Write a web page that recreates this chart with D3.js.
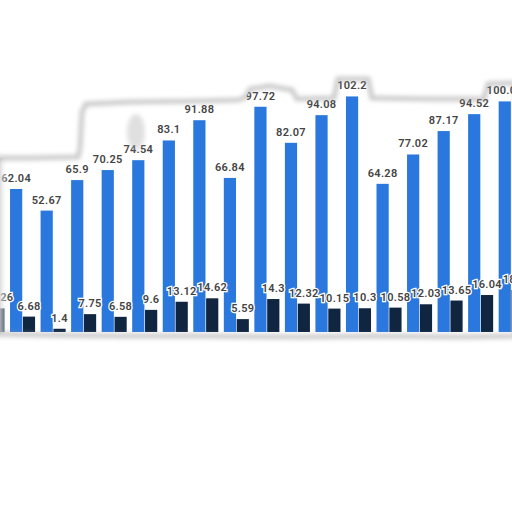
<!DOCTYPE html>
<html>
<head>
<meta charset="utf-8">
<script src="https://cdn.jsdelivr.net/npm/d3@7"></script>
<style>
  html, body { margin: 0; padding: 0; background: #fff; }
  svg { display: block; }
</style>
</head>
<body>
<svg id="chart" width="512" height="512"></svg>
<script>
// groups as they appear left to right (first and last are cut off by the tear)
const groups = ['g0', 'g1', 'g2', 'g3', 'g4', 'g5', 'g6', 'g7', 'g8', 'g9',
                'g10', 'g11', 'g12', 'g13', 'g14', 'g15', 'g16', 'g17'];
const blueValues = [null, 62.04, 52.67, 65.9, 70.25, 74.54, 83.1, 91.88, 66.84, 97.72,
                    82.07, 94.08, 102.2, 64.28, 77.02, 87.17, 94.52, 100.04];
const darkValues = [10.26, 6.68, 1.4, 7.75, 6.58, 9.6, 13.12, 14.62, 5.59, 14.3,
                    12.32, 10.15, 10.3, 10.58, 12.03, 13.65, 16.04, 18.22];
const gridTicks = [25, 50, 75, 100];

const BLUE = '#2a78de';
const DARK = '#0f2540';

const svg = d3.select('#chart');
svg.append('rect').attr('width', 512).attr('height', 512).attr('fill', '#fff');

const defs = svg.append('defs');

// torn paper outline
const tear = [
    [-4, 158], [30, 158], [78, 157], [80, 148], [82, 112], [86, 104], [130, 102],
    [200, 101], [238, 100], [246, 97], [250, 89], [270, 86], [292, 90], [297, 99], [334, 98],
    [338, 79], [368, 79], [372, 98], [430, 99], [484, 99], [488, 84], [516, 83],
    [516, 336], [460, 337], [380, 336], [300, 337], [200, 336], [120, 336],
    [40, 335], [-4, 334]
];
const tearPath = d3.line().curve(d3.curveLinearClosed)(tear);

defs.append('clipPath').attr('id', 'paper')
    .append('path').attr('d', tearPath);

const blur = defs.append('filter').attr('id', 'soft')
    .attr('x', '-20%').attr('y', '-20%').attr('width', '140%').attr('height', '140%');
blur.append('feGaussianBlur').attr('stdDeviation', 2.2);

const x = d3.scaleBand()
    .domain(groups)
    .range([-20.5, 523.7])
    .paddingInner(0.18)
    .paddingOuter(0);

const xs = d3.scaleBand()
    .domain(['blue', 'dark'])
    .range([0, x.bandwidth()])
    .paddingInner(0.05);

const y = d3.scaleLinear()
    .domain([0, 100])
    .range([332, 101.5]);

const g = svg.append('g').attr('clip-path', 'url(#paper)');

g.append('rect').attr('x', 0).attr('y', 0).attr('width', 512).attr('height', 512).attr('fill', '#fff');

// dotted grid
const grid = d3.axisLeft(y).tickValues(gridTicks).tickSize(-560).tickFormat('');
g.append('g')
    .attr('transform', 'translate(530,0)')
    .call(grid)
    .call(s => s.select('.domain').remove())
    .call(s => s.selectAll('line')
        .attr('stroke', '#c8c8c8')
        .attr('stroke-dasharray', '1,2'));

const rows = groups.map((k, i) => ({ key: k, blue: blueValues[i], dark: darkValues[i] }));

g.selectAll('rect.blue')
    .data(rows.filter(d => d.blue != null))
    .join('rect')
    .attr('class', 'blue')
    .attr('x', d => x(d.key) + xs('blue'))
    .attr('width', xs.bandwidth())
    .attr('y', d => y(d.blue))
    .attr('height', d => y(0) - y(d.blue))
    .attr('fill', BLUE);

g.selectAll('rect.dark')
    .data(rows.filter(d => d.dark != null))
    .join('rect')
    .attr('class', 'dark')
    .attr('x', d => x(d.key) + xs('dark'))
    .attr('width', xs.bandwidth())
    .attr('y', d => y(d.dark))
    .attr('height', d => y(0) - y(d.dark))
    .attr('fill', DARK);

const label = (sel) => sel
    .attr('text-anchor', 'middle')
    .attr('font-family', 'Roboto, "Open Sans", sans-serif')
    .attr('font-size', 11)
    .attr('font-weight', 600)
    .attr('fill', '#444')
    .attr('stroke', '#fff')
    .attr('stroke-width', 2.5)
    .attr('paint-order', 'stroke')
    .attr('letter-spacing', 0.3);

g.selectAll('text.blue')
    .data(rows.filter(d => d.blue != null))
    .join('text')
    .attr('class', 'blue')
    .attr('x', d => x(d.key) + xs('blue') + xs.bandwidth() / 2)
    .attr('y', d => y(d.blue) - 7)
    .text(d => d.blue)
    .call(label);

g.selectAll('text.dark')
    .data(rows.filter(d => d.dark != null))
    .join('text')
    .attr('class', 'dark')
    .attr('x', d => x(d.key) + xs('dark') + xs.bandwidth() / 2)
    .attr('y', d => y(d.dark) - 7)
    .text(d => d.dark)
    .call(label);

// left edge fades into the tear
const fade = defs.append('linearGradient').attr('id', 'leftFade')
    .attr('x1', 0).attr('x2', 1).attr('y1', 0).attr('y2', 0);
fade.append('stop').attr('offset', 0).attr('stop-color', '#ddd').attr('stop-opacity', 0.75);
fade.append('stop').attr('offset', 1).attr('stop-color', '#fff').attr('stop-opacity', 0);
g.append('rect').attr('x', 0).attr('y', 150).attr('width', 9).attr('height', 190)
    .attr('fill', 'url(#leftFade)');

// shadow along the torn edge
svg.append('path')
    .attr('d', tearPath)
    .attr('fill', 'none')
    .attr('stroke', '#9a9a9a')
    .attr('stroke-width', 5)
    .attr('opacity', 0.5)
    .attr('filter', 'url(#soft)');

// crease shading near the notch
svg.append('ellipse')
    .attr('cx', 136).attr('cy', 132).attr('rx', 9).attr('ry', 18)
    .attr('fill', '#bbb').attr('opacity', 0.45)
    .attr('filter', 'url(#soft)');
</script>
</body>
</html>
